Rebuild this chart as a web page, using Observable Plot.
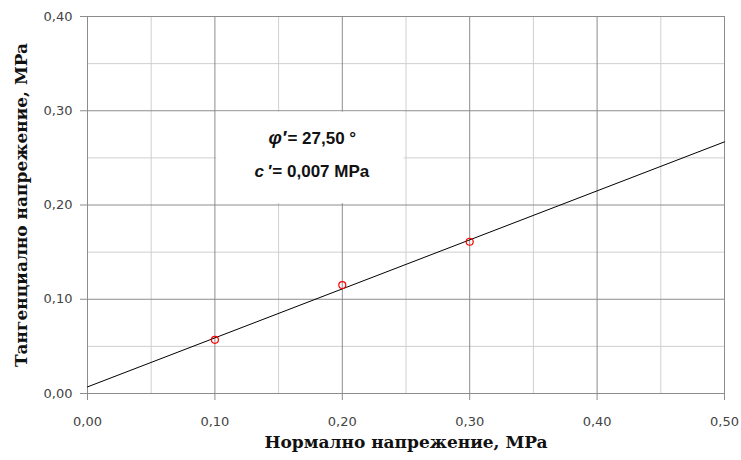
<!DOCTYPE html>
<html>
<head>
<meta charset="utf-8">
<script src="https://cdn.jsdelivr.net/npm/d3@7"></script>
<script src="https://cdn.jsdelivr.net/npm/@observablehq/plot@0.6"></script>
<style>
  html, body { margin: 0; padding: 0; background: #fff; }
  #chart svg { display: block; }
</style>
</head>
<body>
<div id="chart"></div>
<script>
// Measured data points (normal stress, shear stress), MPa
const normalStress = [0.10, 0.20, 0.30];
const shearStress = [0.057, 0.115, 0.161];
// Fitted failure envelope endpoints
const lineX = [0.00, 0.50];
const lineY = [0.007, 0.267];
// Axis ticks
const xMajor = [0.0, 0.1, 0.2, 0.3, 0.4, 0.5];
const yMajor = [0.0, 0.1, 0.2, 0.3, 0.4];
const xMinor = [0.05, 0.15, 0.25, 0.35, 0.45];
const yMinor = [0.05, 0.15, 0.25, 0.35];
// Texts
const xTitle = "Нормално напрежение, МPa";
const yTitle = "Тангенциално напрежение, МPa";
const annSymbols = ["φ′", "c\u2009′"];
const annValues = ["= 27,50 °", "= 0,007 MPa"];

const points = normalStress.map((x, i) => ({x, y: shearStress[i]}));
const fit = lineX.map((x, i) => ({x, y: lineY[i]}));
const fmt = d => d.toFixed(2).replace(".", ",");

// annotation layout (in data units)
const annBox = [{x1: 0.1015, x2: 0.2485, y1: 0.2015, y2: 0.2985}];
const annRows = [
  {sym: annSymbols[0], val: annValues[0], xs: 0.1569, y: 0.271, fs: 19},
  {sym: annSymbols[1], val: annValues[1], xs: 0.1451, y: 0.235, fs: 17}
];

const chart = Plot.plot({
  width: 741,
  height: 460,
  marginLeft: 87,
  marginRight: 17,
  marginTop: 16,
  marginBottom: 67,
  style: {fontFamily: "DejaVu Sans", fontSize: "13px", background: "#fff"},
  x: {domain: [0, 0.5]},
  y: {domain: [0, 0.4]},
  marks: [
    Plot.ruleX(xMinor, {stroke: "#cfcfcf", strokeWidth: 1}),
    Plot.ruleY(yMinor, {stroke: "#cfcfcf", strokeWidth: 1}),
    Plot.ruleX(xMajor, {stroke: "#8c8c8c", strokeWidth: 1}),
    Plot.ruleY(yMajor, {stroke: "#8c8c8c", strokeWidth: 1}),
    Plot.rect(annBox, {x1: "x1", x2: "x2", y1: "y1", y2: "y2", fill: "white"}),
    Plot.line(fit, {x: "x", y: "y", stroke: "black", strokeWidth: 1}),
    Plot.dot(points, {x: "x", y: "y", r: 3.5, stroke: "red", fill: "none", strokeWidth: 1.2}),
    Plot.text(annRows, {x: "xs", y: "y", text: "sym", textAnchor: "end", dx: -1,
      fontFamily: "Liberation Sans", fontSize: d => d.fs, fontWeight: "bold", fontStyle: "italic", fill: "#111"}),
    Plot.text(annRows, {x: "xs", y: "y", text: "val", textAnchor: "start",
      fontFamily: "Liberation Sans", fontSize: 17, fontWeight: "bold", fill: "#111"}),
    Plot.axisX({ticks: xMajor, tickFormat: fmt, tickSize: 7, tickPadding: 16,
      stroke: "#8c8c8c", fill: "#444", label: null}),
    Plot.axisY({ticks: yMajor, tickFormat: fmt, tickSize: 7, tickPadding: 8,
      stroke: "#8c8c8c", fill: "#444", label: null}),
    Plot.text([xTitle], {frameAnchor: "bottom", dy: 54, text: d => d, textAnchor: "middle",
      fontFamily: "DejaVu Serif", fontSize: 17, fontWeight: "bold", fill: "#111"}),
    Plot.text([yTitle], {frameAnchor: "left", dx: -66, rotate: -90, text: d => d, textAnchor: "middle",
      fontFamily: "DejaVu Serif", fontSize: 17, fontWeight: "bold", fill: "#111"})
  ]
});
document.getElementById("chart").appendChild(chart);
</script>
</body>
</html>
